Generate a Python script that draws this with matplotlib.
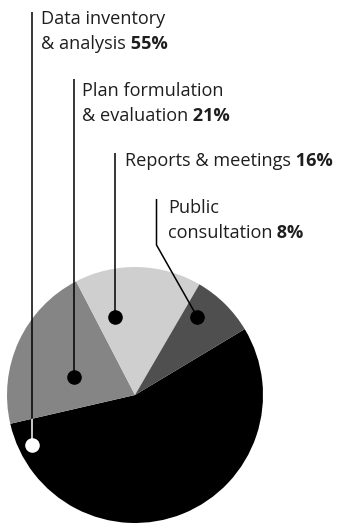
import matplotlib.pyplot as plt

# time spent on each stage of the plan (percent)
stages = ['Data inventory\n& analysis', 'Plan formulation\n& evaluation',
          'Reports & meetings', 'Public\nconsultation']
shares = [55, 21, 16, 8]
colors = ['#000000', '#858585', '#cfcfcf', '#4f4f4f']
dot_colors = ['white', 'black', 'black', 'black']

W, H = 339, 523
fig = plt.figure(figsize=(W / 100, H / 100), dpi=100)
ax = fig.add_axes([0, 0, 1, 1])

# pie sits in the lower part of the figure (pixel-like coords, y up)
cx, cy, r = 135, 128, 128
wedges, _ = ax.pie(shares, colors=colors, startangle=31, counterclock=False,
                   center=(cx, cy), radius=r, wedgeprops=dict(linewidth=0))

# label text position, top of leader line, dot position (screen px, y down)
label_xy = [(41, 24), (82, 96), (125, 166), (168, 213)]
line_top = [12, 79, 153, 199]
dot_xy = [(32.3, 445), (74, 377), (115.3, 317), (197.3, 317)]

font = 'Open Sans'
fs = 13.1
line_gap = 24.8

for i, (name, pct) in enumerate(zip(stages, shares)):
    lx, ly = label_xy[i]
    dx, dy = dot_xy[i]
    # leader line
    if i == 3:
        xs = [lx - 11.5, lx - 11.5, dx]
        ys = [H - line_top[i], H - 245, H - dy]
    else:
        xs = [dx, dx]
        ys = [H - line_top[i], H - dy]
    ax.plot(xs, ys, color='black', lw=1.1, solid_capstyle='butt', zorder=3)
    # the part running over the black wedge is drawn white
    if i == 0:
        wl, = ax.plot(xs, ys, color='white', lw=1.1, solid_capstyle='butt', zorder=3)
        wl.set_clip_path(wedges[0])
    ax.plot(dx, H - dy, 'o', ms=10.5, color=dot_colors[i], mec='none', zorder=4)

    # label lines; the last line ends with the bold percentage
    lines = name.split('\n')
    for j, txt in enumerate(lines):
        t = ax.text(lx, H - ly - j * line_gap, txt, fontsize=fs, family=font,
                    color='#1e1e1e', ha='left', va='baseline')
    ax.annotate(' %d%%' % pct, xy=(1, 0), xycoords=t, fontsize=fs, family=font,
                fontweight='bold', color='#1e1e1e', ha='left', va='bottom')

ax.set_xlim(0, W)
ax.set_ylim(0, H)
ax.set_aspect('equal')
ax.axis('off')
fig.savefig('out.png', dpi=100)
